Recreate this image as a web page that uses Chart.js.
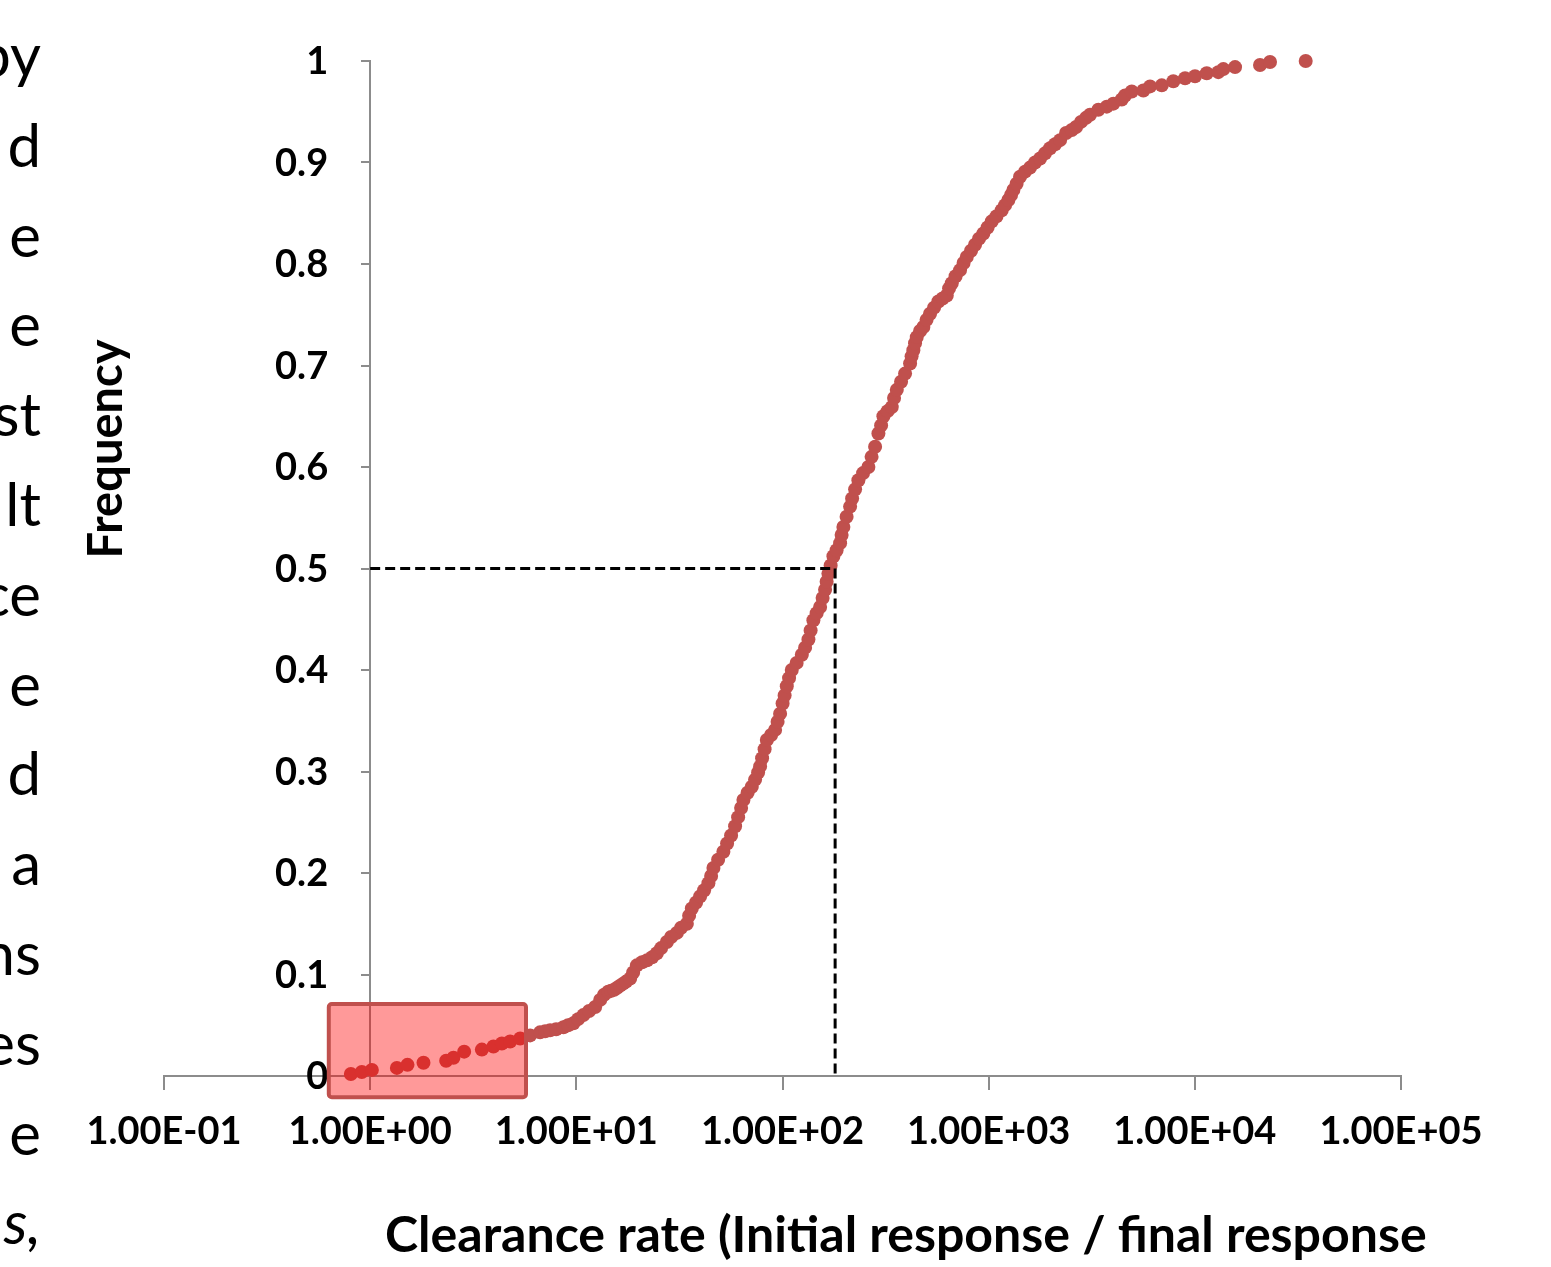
<!DOCTYPE html>
<html>
<head>
<meta charset="utf-8">
<script src="https://cdn.jsdelivr.net/npm/chart.js@4.4.1/dist/chart.umd.min.js"></script>
<style>
  body { margin: 0; background: #fff; width: 1551px; height: 1267px; overflow: hidden; position: relative; }
  #side { position: absolute; left: 0; top: 0; width: 41px; height: 1267px; overflow: hidden; }
  #side div { position: absolute; right: 0; font-family: Lato, sans-serif; font-size: 60px; line-height: 60px; white-space: nowrap; color: #000; }
  #chart { position: absolute; left: 0; top: 0; }
</style>
</head>
<body>
<div id="side"></div>
<canvas id="chart" width="1551" height="1267"></canvas>
<script>
// clearance rate (x) and cumulative frequency (y)
const clearanceRate = [
  0.806, 0.911, 1.019, 1.348, 1.517, 1.814, 2.337, 2.535, 2.857, 3.481,
  3.963, 4.352, 4.775, 5.34, 5.97, 6.67, 7.06, 7.46, 7.98, 8.66, 9.12, 9.68, 10.2,
  10.82, 11.53, 12.34, 13.05, 13.64, 14.27, 14.75, 15.25, 15.77, 16.31, 16.87, 17.44, 18.24,
  18.86, 19.66, 20.84, 22.05, 23.32, 24.57, 25.78, 27.48, 28.83, 30.72,
  32.23, 34.36, 35.24, 36.32, 38.11, 39.85, 41.67, 43.72, 45.06, 46.23,
  48.72, 51.68, 53.86, 56.32, 58.9, 60.92, 62.98, 64.63, 67.72, 70.97,
  73.63, 76.15, 77.87, 79.63, 81.88, 83.93, 88.05, 92.07, 94.67, 97.36,
  100.1, 102.4, 104.9, 107.6, 110.9, 117.1, 124.1, 128.7, 133.6, 136.9,
  141.2, 146.4, 152.2, 156.5, 160.9, 163.7, 167.0, 171.2, 176.6, 183.0,
  190.3, 193.5, 197.4, 204.6, 212.8, 217.6, 225.0, 233.4, 246.0, 261.0,
  270.5, 281.3, 291.9, 300.8, 308.6, 323.4, 338.8, 347.6, 358.4, 376.0,
  393.1, 415.8, 422.8, 431.3, 439.5, 448.0, 464.8, 482.3, 499.8, 519.8,
  543.5, 570.2, 597.6, 626.4, 642.7, 662.2, 691.0, 726.6, 755.6, 783.1,
  821.6, 859.2, 898.4, 942.5, 987.9, 1035, 1092, 1157, 1201, 1246,
  1284, 1318, 1366, 1420, 1502, 1588, 1679, 1776, 1877, 1985,
  2099, 2220, 2374, 2529, 2654, 2805, 2967, 3102, 3404, 3739,
  4025, 4421, 4587, 4943, 5627, 6064, 6912, 7866, 8966, 10020,
  11420, 13000, 13750, 15670, 20710, 23160, 34500
];
const frequency = [
  0.002, 0.004, 0.006, 0.008, 0.011, 0.013, 0.015, 0.018, 0.024, 0.026,
  0.029, 0.032, 0.034, 0.037, 0.040, 0.043, 0.044, 0.045, 0.046, 0.048, 0.050, 0.052, 0.056,
  0.060, 0.064, 0.068, 0.075, 0.080, 0.083, 0.084, 0.085, 0.087, 0.089, 0.091, 0.093, 0.096,
  0.102, 0.109, 0.112, 0.114, 0.117, 0.121, 0.126, 0.132, 0.137, 0.141,
  0.146, 0.150, 0.158, 0.165, 0.171, 0.177, 0.183, 0.190, 0.197, 0.205,
  0.213, 0.221, 0.229, 0.237, 0.246, 0.255, 0.264, 0.272, 0.279, 0.285,
  0.292, 0.299, 0.305, 0.313, 0.322, 0.331, 0.336, 0.341, 0.349, 0.357,
  0.367, 0.375, 0.384, 0.392, 0.400, 0.407, 0.415, 0.422, 0.430, 0.439,
  0.449, 0.456, 0.462, 0.471, 0.479, 0.487, 0.495, 0.503, 0.512, 0.518,
  0.525, 0.533, 0.541, 0.551, 0.561, 0.569, 0.578, 0.587, 0.594, 0.600,
  0.610, 0.620, 0.633, 0.641, 0.650, 0.655, 0.659, 0.668, 0.676, 0.684,
  0.692, 0.702, 0.709, 0.715, 0.722, 0.728, 0.734, 0.738, 0.745, 0.751,
  0.757, 0.763, 0.766, 0.769, 0.776, 0.781, 0.788, 0.794, 0.801, 0.807,
  0.813, 0.819, 0.825, 0.830, 0.836, 0.842, 0.847, 0.853, 0.858, 0.863,
  0.868, 0.873, 0.879, 0.886, 0.891, 0.895, 0.900, 0.904, 0.909, 0.914,
  0.918, 0.922, 0.929, 0.932, 0.935, 0.940, 0.944, 0.947, 0.952, 0.955,
  0.958, 0.962, 0.966, 0.970, 0.971, 0.975, 0.976, 0.980, 0.983, 0.985,
  0.988, 0.989, 0.992, 0.994, 0.996, 0.999, 1.000
];

const xTickValues = [0.1, 1, 10, 100, 1000, 10000, 100000];
const xTickLabels = ['1.00E-01', '1.00E+00', '1.00E+01', '1.00E+02', '1.00E+03', '1.00E+04', '1.00E+05'];
const yTickValues = [0, 0.1, 0.2, 0.3, 0.4, 0.5, 0.6, 0.7, 0.8, 0.9, 1];
const yTickLabels = ['0', '0.1', '0.2', '0.3', '0.4', '0.5', '0.6', '0.7', '0.8', '0.9', '1'];

const axisCross = 1;        // y axis sits at x = 1
const medianRate = 180;     // dashed marker
const medianFreq = 0.5;
const boxRate = [0.63, 5.7];   // highlighted region
const boxFreq = [-0.021, 0.071];

const xTitle = 'Clearance rate (Initial response / final response';
const yTitle = 'Frequency';
const sideWords = ['py', 'd', 'e', 'e', 'st', 'lt', 'ce', 'e', 'd', 'a', 'ns', 'es', 'e', 's,'];

// cropped slide text on the left edge
const side = document.getElementById('side');
sideWords.forEach(function (w, i) {
  const d = document.createElement('div');
  d.textContent = w;
  d.style.top = (24 + i * 89.8) + 'px';
  if (i === sideWords.length - 1) d.style.fontStyle = 'italic';
  side.appendChild(d);
});

const axisGrey = '#8c8c8c';
const red = '#C0504D';
const tickFont = { family: 'Lato', weight: 'bold', size: 38 };

const overlay = {
  id: 'overlay',
  afterDraw(chart) {
    const ctx = chart.ctx;
    const x = chart.scales.x, y = chart.scales.y;
    ctx.save();

    // y labels sit left of the crossing axis
    ctx.fillStyle = '#000';
    ctx.font = 'bold 38px Lato';
    ctx.textAlign = 'right';
    ctx.textBaseline = 'middle';
    const lx = x.getPixelForValue(axisCross) - 42;
    yTickValues.forEach(function (v, i) {
      ctx.fillText(yTickLabels[i], lx, y.getPixelForValue(v) + 1);
    });

    // highlighted box
    const x0 = x.getPixelForValue(boxRate[0]), x1 = x.getPixelForValue(boxRate[1]);
    const y0 = y.getPixelForValue(boxFreq[1]), y1 = y.getPixelForValue(boxFreq[0]);
    ctx.fillStyle = 'rgba(255,0,0,0.4)';
    ctx.strokeStyle = red;
    ctx.lineWidth = 4;
    ctx.beginPath();
    ctx.roundRect(x0, y0, x1 - x0, y1 - y0, 3);
    ctx.fill();
    ctx.stroke();

    ctx.fillStyle = '#000';
    // x title, fitted to the width it has in the slide
    let size = 40;
    ctx.font = 'bold ' + size + 'px Lato';
    size = size * 1042 / ctx.measureText(xTitle).width;
    ctx.font = 'bold ' + size + 'px Lato';
    ctx.textAlign = 'left';
    ctx.textBaseline = 'alphabetic';
    ctx.fillText(xTitle, 385, 1252);

    ctx.font = 'bold 47px Lato';
    ctx.translate(107, 449);
    ctx.rotate(-Math.PI / 2);
    ctx.textAlign = 'center';
    ctx.textBaseline = 'middle';
    ctx.fillText(yTitle, 0, 0);
    ctx.restore();
  }
};

const myChart = new Chart(document.getElementById('chart'), {
  type: 'scatter',
  data: {
    datasets: [{
      label: 'Clearance',
      data: clearanceRate.map(function (v, i) { return { x: v, y: frequency[i] }; }),
      pointRadius: 7,
      pointBackgroundColor: red,
      pointBorderWidth: 0,
      clip: false,
      order: 1
    }, {
      label: 'Median',
      data: [
        { x: axisCross, y: medianFreq },
        { x: medianRate, y: medianFreq },
        { x: medianRate, y: 0 }
      ],
      showLine: true,
      borderColor: '#000',
      borderWidth: 3,
      borderDash: [10, 5],
      pointRadius: 0,
      order: 0
    }]
  },
  options: {
    responsive: false,
    animation: false,
    events: [],
    layout: { padding: { left: 164, right: 150, top: 61, bottom: 0 } },
    plugins: { legend: { display: false }, tooltip: { enabled: false } },
    scales: {
      x: {
        type: 'logarithmic',
        position: 'bottom',
        min: 0.1,
        max: 100000,
        afterBuildTicks: function (s) { s.ticks = xTickValues.map(function (v) { return { value: v }; }); },
        afterFit: function (s) { s.height = 191; },
        grid: { drawOnChartArea: false, tickLength: 14, color: axisGrey, lineWidth: 2 },
        border: { color: axisGrey, width: 2 },
        ticks: {
          autoSkip: false, maxRotation: 0, padding: 19, color: '#000', font: tickFont,
          callback: function (v, i) { return xTickLabels[i]; }
        }
      },
      y: {
        type: 'linear',
        position: { x: axisCross },
        min: 0,
        max: 1,
        afterBuildTicks: function (s) { s.ticks = yTickValues.map(function (v) { return { value: v }; }); },
        grid: { drawOnChartArea: false, tickLength: 8, color: axisGrey, lineWidth: 2 },
        border: { color: axisGrey, width: 2 },
        ticks: { display: false }
      }
    }
  },
  plugins: [overlay]
});
</script>
</body>
</html>
